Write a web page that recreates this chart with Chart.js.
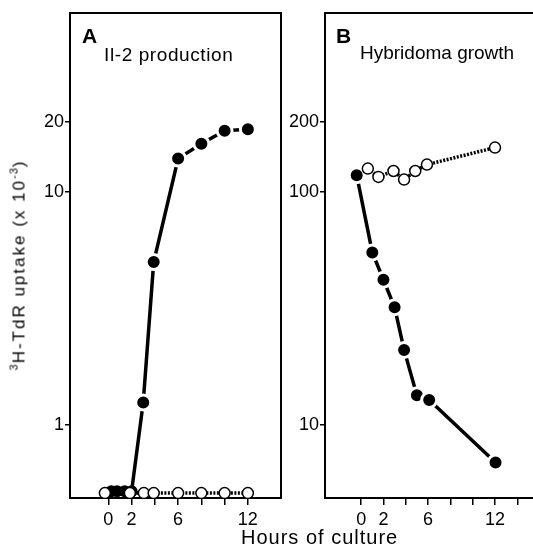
<!DOCTYPE html>
<html>
<head>
<meta charset="utf-8">
<script src="https://cdn.jsdelivr.net/npm/chart.js@4/dist/chart.umd.min.js"></script>
<style>
  html, body { margin: 0; padding: 0; background: #fff; width: 533px; height: 547px; overflow: hidden; }
  body { position: relative; font-family: "Liberation Sans", Arial, Helvetica, sans-serif; color: #000; }
  canvas { position: absolute; top: 0; }
  #chartA { left: 0; }
  #chartB { left: 255px; }
  .txt { position: absolute; white-space: nowrap; line-height: 1; }
  .letter { font-size: 21px; font-weight: bold; }
  .title { font-size: 19px; }
  #yTitle { left: 19px; top: 265px; font-size: 17px; letter-spacing: 2px;
            transform: translate(-50%, -50%) rotate(-90deg); }
  #yTitle .sup { font-size: 11px; position: relative; top: -7px; letter-spacing: 1px; }
  #xTitle { left: 241px; top: 527px; font-size: 20px; letter-spacing: 1px; }
</style>
</head>
<body>
<canvas id="chartA" width="300" height="547"></canvas>
<canvas id="chartB" width="320" height="547"></canvas>

<div class="txt letter" style="left:82px; top:25px;">A</div>
<div class="txt title" style="left:104px; top:45px; letter-spacing:0.6px;">Il-2 production</div>
<div class="txt letter" style="left:336px; top:25px;">B</div>
<div class="txt title" style="left:360px; top:43px;">Hybridoma growth</div>
<div class="txt" id="yTitle"><span class="sup">3</span>H-TdR uptake (x 10<span class="sup">-3</span>)</div>
<div class="txt" id="xTitle">Hours of culture</div>

<script>
// A: IL-2 production (open = control, filled = stimulated)
const aOpenHours = [-0.3, 1.85, 3.05, 3.9, 6, 8, 10, 12];
const aOpenUptake = [0.51, 0.51, 0.51, 0.51, 0.51, 0.51, 0.51, 0.51];
const aFilledHours = [0.25, 0.75, 1.4, 2.0, 3.0, 3.9, 6, 8, 10, 12];
const aFilledUptake = [0.52, 0.52, 0.52, 0.52, 1.25, 5.0, 13.9, 16.1, 18.3, 18.6];

// B: hybridoma growth
const bOpenHours = [0.6, 1.55, 2.9, 3.85, 4.85, 5.9, 12];
const bOpenUptake = [126, 116, 123, 113, 123, 131, 155];
const bFilledHours = [-0.4, 1.0, 2.0, 3.0, 3.85, 5.0, 6.1, 12.05];
const bFilledUptake = [118, 55, 42, 32, 21, 13.4, 12.8, 6.9];

// axis ticks
const aHourTicks = [0, 2, 4, 6, 8, 10, 12];
const bHourTicks = [0, 2, 4, 6, 8, 10, 12, 14, 16, 18];
const hourLabels = [0, 2, 6, 12];
const aUptakeTicks = [1, 10, 20];
const bUptakeTicks = [10, 100, 200];

const FONT = '"Liberation Sans", Arial, Helvetica, sans-serif';

function pairs(xs, ys) {
    return xs.map((x, i) => ({ x: x, y: ys[i] }));
}

// box around the plot area
const framePlugin = {
    id: 'frame',
    beforeDatasetsDraw(chart) {
        const { ctx, chartArea: a } = chart;
        ctx.save();
        ctx.strokeStyle = '#000';
        ctx.lineWidth = 2;
        ctx.strokeRect(a.left, a.top, a.right - a.left, a.bottom - a.top);
        ctx.restore();
    }
};

function makePanel(id, opts) {
    // filled points get a white ring so the line stops short of them,
    // except the overlapping cluster at the baseline
    const ringed = c => c.raw && c.raw.y > opts.clusterBelow;

    return new Chart(document.getElementById(id), {
        type: 'scatter',
        data: {
            datasets: [{
                label: 'control',
                data: pairs(opts.openHours, opts.openUptake),
                showLine: true,
                borderColor: '#000',
                borderWidth: 3.5,
                borderDash: [2, 1.5],
                pointRadius: 5.5,
                pointBorderWidth: 1.5,
                pointBorderColor: '#000',
                pointBackgroundColor: '#fff',
                order: 0
            }, {
                label: 'stimulated',
                data: pairs(opts.filledHours, opts.filledUptake),
                showLine: true,
                borderColor: '#000',
                borderWidth: 3.5,
                pointRadius: c => ringed(c) ? 7.5 : 6,
                pointBorderWidth: c => ringed(c) ? 3 : 0,
                pointBorderColor: c => ringed(c) ? '#fff' : '#000',
                pointBackgroundColor: '#000',
                order: 1
            }]
        },
        options: {
            responsive: false,
            animation: false,
            events: [],
            layout: { padding: { left: 0, top: 13, right: opts.padRight, bottom: 0 } },
            plugins: { legend: { display: false }, tooltip: { enabled: false } },
            scales: {
                x: {
                    type: 'linear',
                    min: opts.xMin,
                    max: opts.xMax,
                    afterBuildTicks: s => { s.ticks = opts.hourTicks.map(v => ({ value: v })); },
                    afterFit: s => { s.height = 49; },
                    grid: { drawOnChartArea: false, drawTicks: true, tickLength: 7, lineWidth: 1.5, color: '#000' },
                    border: { display: true, color: '#000', width: 2 },
                    ticks: {
                        autoSkip: false, maxRotation: 0, padding: 4, color: '#000',
                        font: { family: FONT, size: 18 },
                        callback: v => hourLabels.includes(v) ? String(v) : ''
                    }
                },
                y: {
                    type: 'logarithmic',
                    min: opts.yMin,
                    max: opts.yMax,
                    afterBuildTicks: s => { s.ticks = opts.uptakeTicks.map(v => ({ value: v })); },
                    afterFit: s => { s.width = 70; },
                    grid: { drawOnChartArea: false, drawTicks: true, tickLength: 5, lineWidth: 1.5, color: '#000' },
                    border: { display: true, color: '#000', width: 2 },
                    ticks: {
                        padding: 1, color: '#000',
                        font: { family: FONT, size: 18 },
                        callback: v => String(v)
                    }
                }
            }
        },
        plugins: [framePlugin]
    });
}

makePanel('chartA', {
    openHours: aOpenHours, openUptake: aOpenUptake,
    filledHours: aFilledHours, filledUptake: aFilledUptake,
    hourTicks: aHourTicks, uptakeTicks: aUptakeTicks,
    xMin: -3.3, xMax: 14.85, yMin: 0.486, yMax: 58.6,
    clusterBelow: 0.7, padRight: 19
});

makePanel('chartB', {
    openHours: bOpenHours, openUptake: bOpenUptake,
    filledHours: bFilledHours, filledUptake: bFilledUptake,
    hourTicks: bHourTicks, uptakeTicks: bUptakeTicks,
    xMin: -3.24, xMax: 18.23, yMin: 4.86, yMax: 586,
    clusterBelow: 0, padRight: 0
});
</script>
</body>
</html>
